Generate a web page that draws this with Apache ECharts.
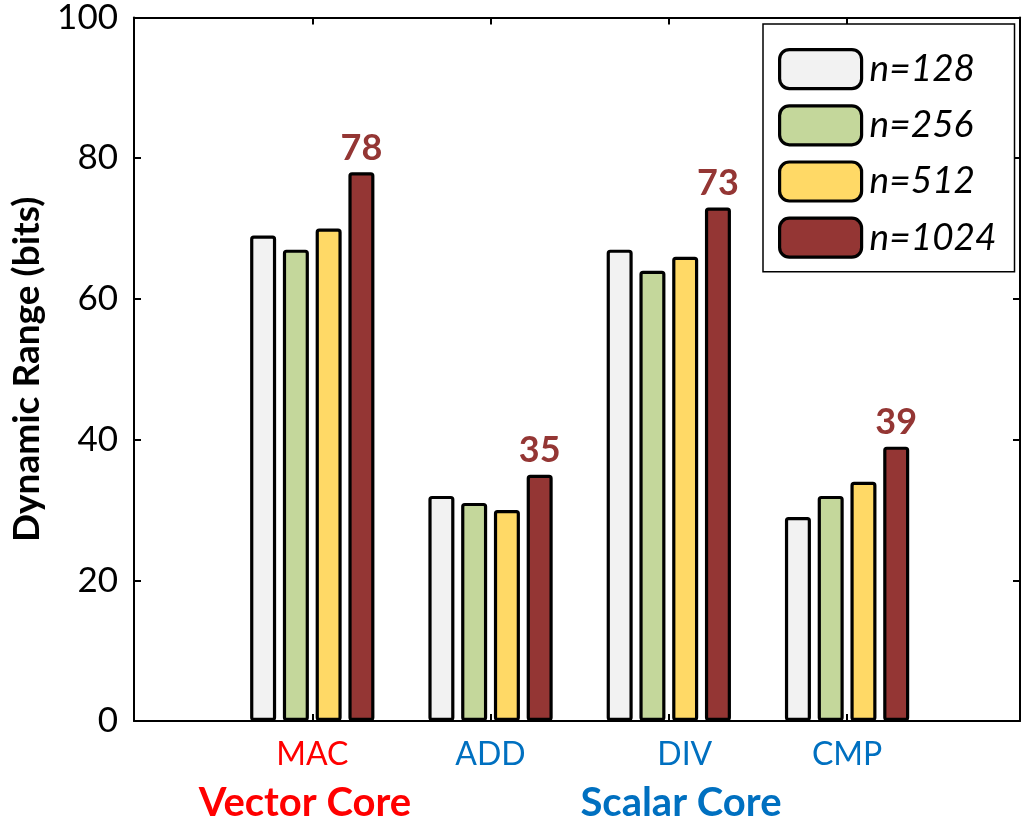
<!DOCTYPE html>
<html>
<head>
<meta charset="utf-8">
<script src="https://cdn.jsdelivr.net/npm/echarts@6/dist/echarts.min.js"></script>
<style>html,body{margin:0;padding:0;background:#fff}#c{width:1023px;height:823px}</style>
</head>
<body>
<div id="c"></div>
<script>
const categories = ['MAC', 'ADD', 'DIV', 'CMP'];
const seriesNames = ['n=128', 'n=256', 'n=512', 'n=1024'];
const n128 = [69, 32, 67, 29];
const n256 = [67, 31, 64, 32];
const n512 = [70, 30, 66, 34];
const n1024 = [78, 35, 73, 39];
const yTicks = [0, 20, 40, 60, 80, 100];
const groupLabels = ['Vector Core', 'Scalar Core'];
const yTitle = 'Dynamic Range (bits)';

const colors = ['#f2f2f2', '#c4d79b', '#ffd966', '#943634'];
const values = [n128, n256, n512, n1024];
const FONT = 'Lato';

const chart = echarts.init(document.getElementById('c'), null, {renderer: 'canvas'});

const series = values.map((arr, si) => ({
  name: seriesNames[si],
  type: 'bar',
  xAxisIndex: 0,
  yAxisIndex: 0,
  barWidth: 26,
  barGap: '26%',
  data: categories.map((c, i) => [i + 1, arr[i]]),
  itemStyle: {color: colors[si], borderColor: '#000', borderWidth: 3.2, borderRadius: 2},
  label: si === 3 ? {
    show: true, position: 'top', distance: 6,
    formatter: p => String(p.value[1]),
    fontFamily: FONT, fontWeight: 'bold', fontSize: 36, color: '#943634'
  } : {show: false},
  emphasis: {disabled: true},
  animation: false
}));

const labelRich = {
  r: {color: '#ff0000', fontFamily: FONT, fontSize: 32},
  b: {color: '#0070c0', fontFamily: FONT, fontSize: 32},
  d: {color: '#0070c0', fontFamily: FONT, fontSize: 32, padding: [0, 0, 0, 32]}
};

const axisCommon = {
  axisLine: {show: true, onZero: false, lineStyle: {color: '#000', width: 2}},
  axisTick: {show: true, inside: true, length: 7, lineStyle: {color: '#000', width: 2}},
  splitLine: {show: false}
};

chart.setOption({
  animation: false,
  backgroundColor: '#fff',
  grid: {left: 134, top: 16, bottom: 102, width: 892},
  legend: {
    data: seriesNames,
    orient: 'vertical',
    left: 763, top: 24,
    padding: [24, 18, 13, 15],
    itemWidth: 82, itemHeight: 39, itemGap: 14,
    itemStyle: {borderColor: '#000', borderWidth: 3.2},
    backgroundColor: '#fff', borderColor: '#000', borderWidth: 1.5,
    textStyle: {fontFamily: FONT, fontStyle: 'italic', fontSize: 37, color: '#000', lineHeight: 40, padding: [0, 0, 0, 3]},
    selectedMode: false
  },
  xAxis: [Object.assign({
    type: 'value', min: 0, max: 4.97, interval: 1, position: 'bottom',
    axisLabel: {
      margin: 18,
      showMinLabel: false,
      formatter: v => {
        const c = categories[Math.round(v) - 1];
        if (!c || Math.abs(v - Math.round(v)) > 1e-6) return '';
        if (c === 'MAC') return '{r|' + c + '}';
        if (c === 'DIV') return '{d|' + c + '}';
        return '{b|' + c + '}';
      },
      rich: labelRich
    }
  }, axisCommon), Object.assign({
    type: 'value', min: 0, max: 4.97, interval: 1, position: 'top',
    axisLabel: {show: false}
  }, axisCommon)],
  yAxis: [Object.assign({
    type: 'value', min: yTicks[0], max: yTicks[yTicks.length - 1], interval: 20, position: 'left',
    name: yTitle, nameLocation: 'middle', nameGap: 88,
    nameTextStyle: {fontFamily: FONT, fontWeight: 'bold', fontSize: 37, color: '#000'},
    axisLabel: {margin: 16, fontFamily: FONT, fontSize: 35, color: '#000'}
  }, axisCommon), Object.assign({
    type: 'value', min: yTicks[0], max: yTicks[yTicks.length - 1], interval: 20, position: 'right',
    axisLabel: {show: false}
  }, axisCommon)],
  graphic: [
    {type: 'text', x: 305, y: 803, style: {text: groupLabels[0], fill: '#ff0000', font: 'bold 40px Lato', textAlign: 'center', textVerticalAlign: 'middle'}},
    {type: 'text', x: 681, y: 803, style: {text: groupLabels[1], fill: '#0070c0', font: 'bold 40px Lato', textAlign: 'center', textVerticalAlign: 'middle'}}
  ],
  series: series
});
</script>
</body>
</html>
